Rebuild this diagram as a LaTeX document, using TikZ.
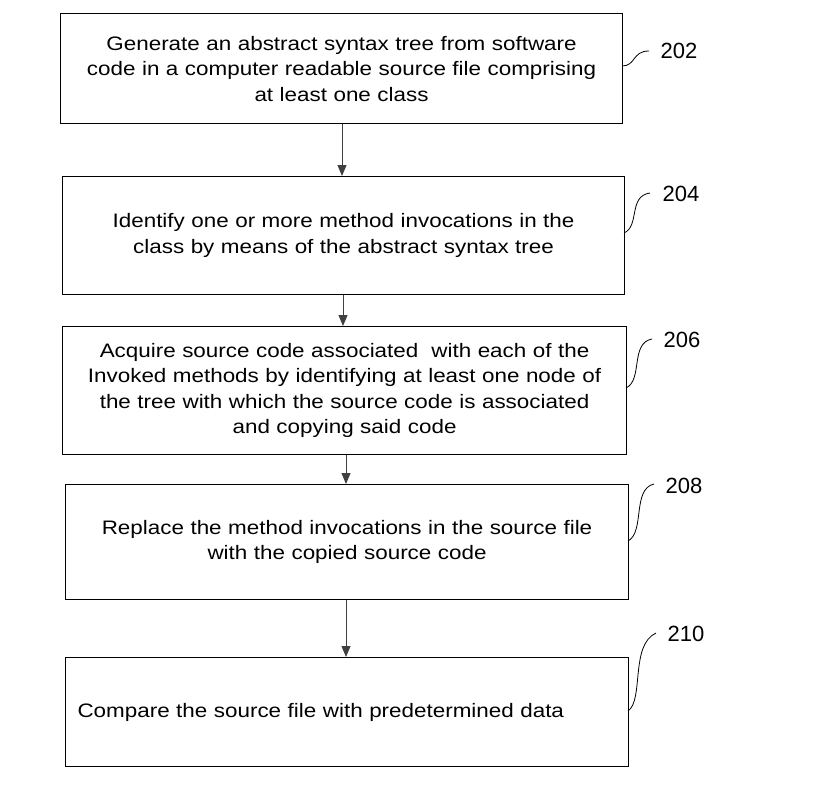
\documentclass[tikz,border=0pt]{standalone}
\usepackage{fontspec}
\setmainfont{Liberation Sans}
\newfontfamily\widefont[FakeStretch=1.15]{Liberation Sans}
\usetikzlibrary{arrows.meta}
\begin{document}
\begin{tikzpicture}[x=1pt,y=-1pt,
  stepbox/.style={draw,line width=1.1pt,inner sep=0pt,anchor=north west,
    font=\widefont\fontsize{19.5}{25.5}\selectfont,align=center},
  flow/.style={draw=black!75,line width=0.9pt,-{Triangle[length=11pt,width=9pt]}},
  reflbl/.style={font=\fontsize{22}{26}\selectfont,inner sep=0pt},
  lead/.style={line width=0.8pt}]
\useasboundingbox (0,0) rectangle (835,789);
\node[stepbox,minimum width=562pt,minimum height=110pt,text width=555pt] (b1) at (60,13)
  {Generate an abstract syntax tree from software\\code in a computer readable source file comprising\\at least one class};
\node[stepbox,minimum width=562pt,minimum height=118pt,text width=555pt] (b2) at (62,176)
  {Identify one or more method invocations in the\\class by means of the abstract syntax tree};
\node[stepbox,minimum width=564pt,minimum height=128pt,text width=555pt] (b3) at (62,326)
  {Acquire source code associated\ \ with each of the\\Invoked methods by identifying at least one node of\\the tree with which the source code is associated\\and copying said code};
\node[stepbox,minimum width=563pt,minimum height=115pt,text width=555pt] (b4) at (65,484)
  {Replace the method invocations in the source file\\with the copied source code};
\node[stepbox,minimum width=563pt,minimum height=109pt,text width=555pt,align=left] (b5) at (65,657)
  {\hspace*{8pt}Compare the source file with predetermined data};
\draw[flow] (b1.south -| 342,0) -- (b2.north -| 342,0);
\draw[flow] (b2.south -| 343,0) -- (b3.north -| 343,0);
\draw[flow] (b3.south -| 346,0) -- (b4.north -| 346,0);
\draw[flow] (b4.south -| 346,0) -- (b5.north -| 346,0);
\node[reflbl] (l1) at (679,51) {202};
\node[reflbl] (l2) at (681,194) {204};
\node[reflbl] (l3) at (682,340) {206};
\node[reflbl] (l4) at (684,486) {208};
\node[reflbl] (l5) at (686,634) {210};
\coordinate (s1) at (622,66);
\coordinate (s2) at (624,233);
\coordinate (s3) at (626,388);
\coordinate (s4) at (628,541);
\coordinate (s5) at (628,711);
\coordinate (e1) at (649,51);
\coordinate (e2) at (650,193);
\coordinate (e3) at (652,339);
\coordinate (e4) at (654,484);
\coordinate (e5) at (656,633);
\draw[lead] (s1) .. controls (636,66) and (632,51) .. (e1);
\draw[lead] (s2) .. controls (640,226) and (628,196) .. (e2);
\draw[lead] (s3) .. controls (643,380) and (630,343) .. (e3);
\draw[lead] (s4) .. controls (645,532) and (632,489) .. (e4);
\draw[lead] (s5) .. controls (644,700) and (630,645) .. (e5);
\end{tikzpicture}
\end{document}
